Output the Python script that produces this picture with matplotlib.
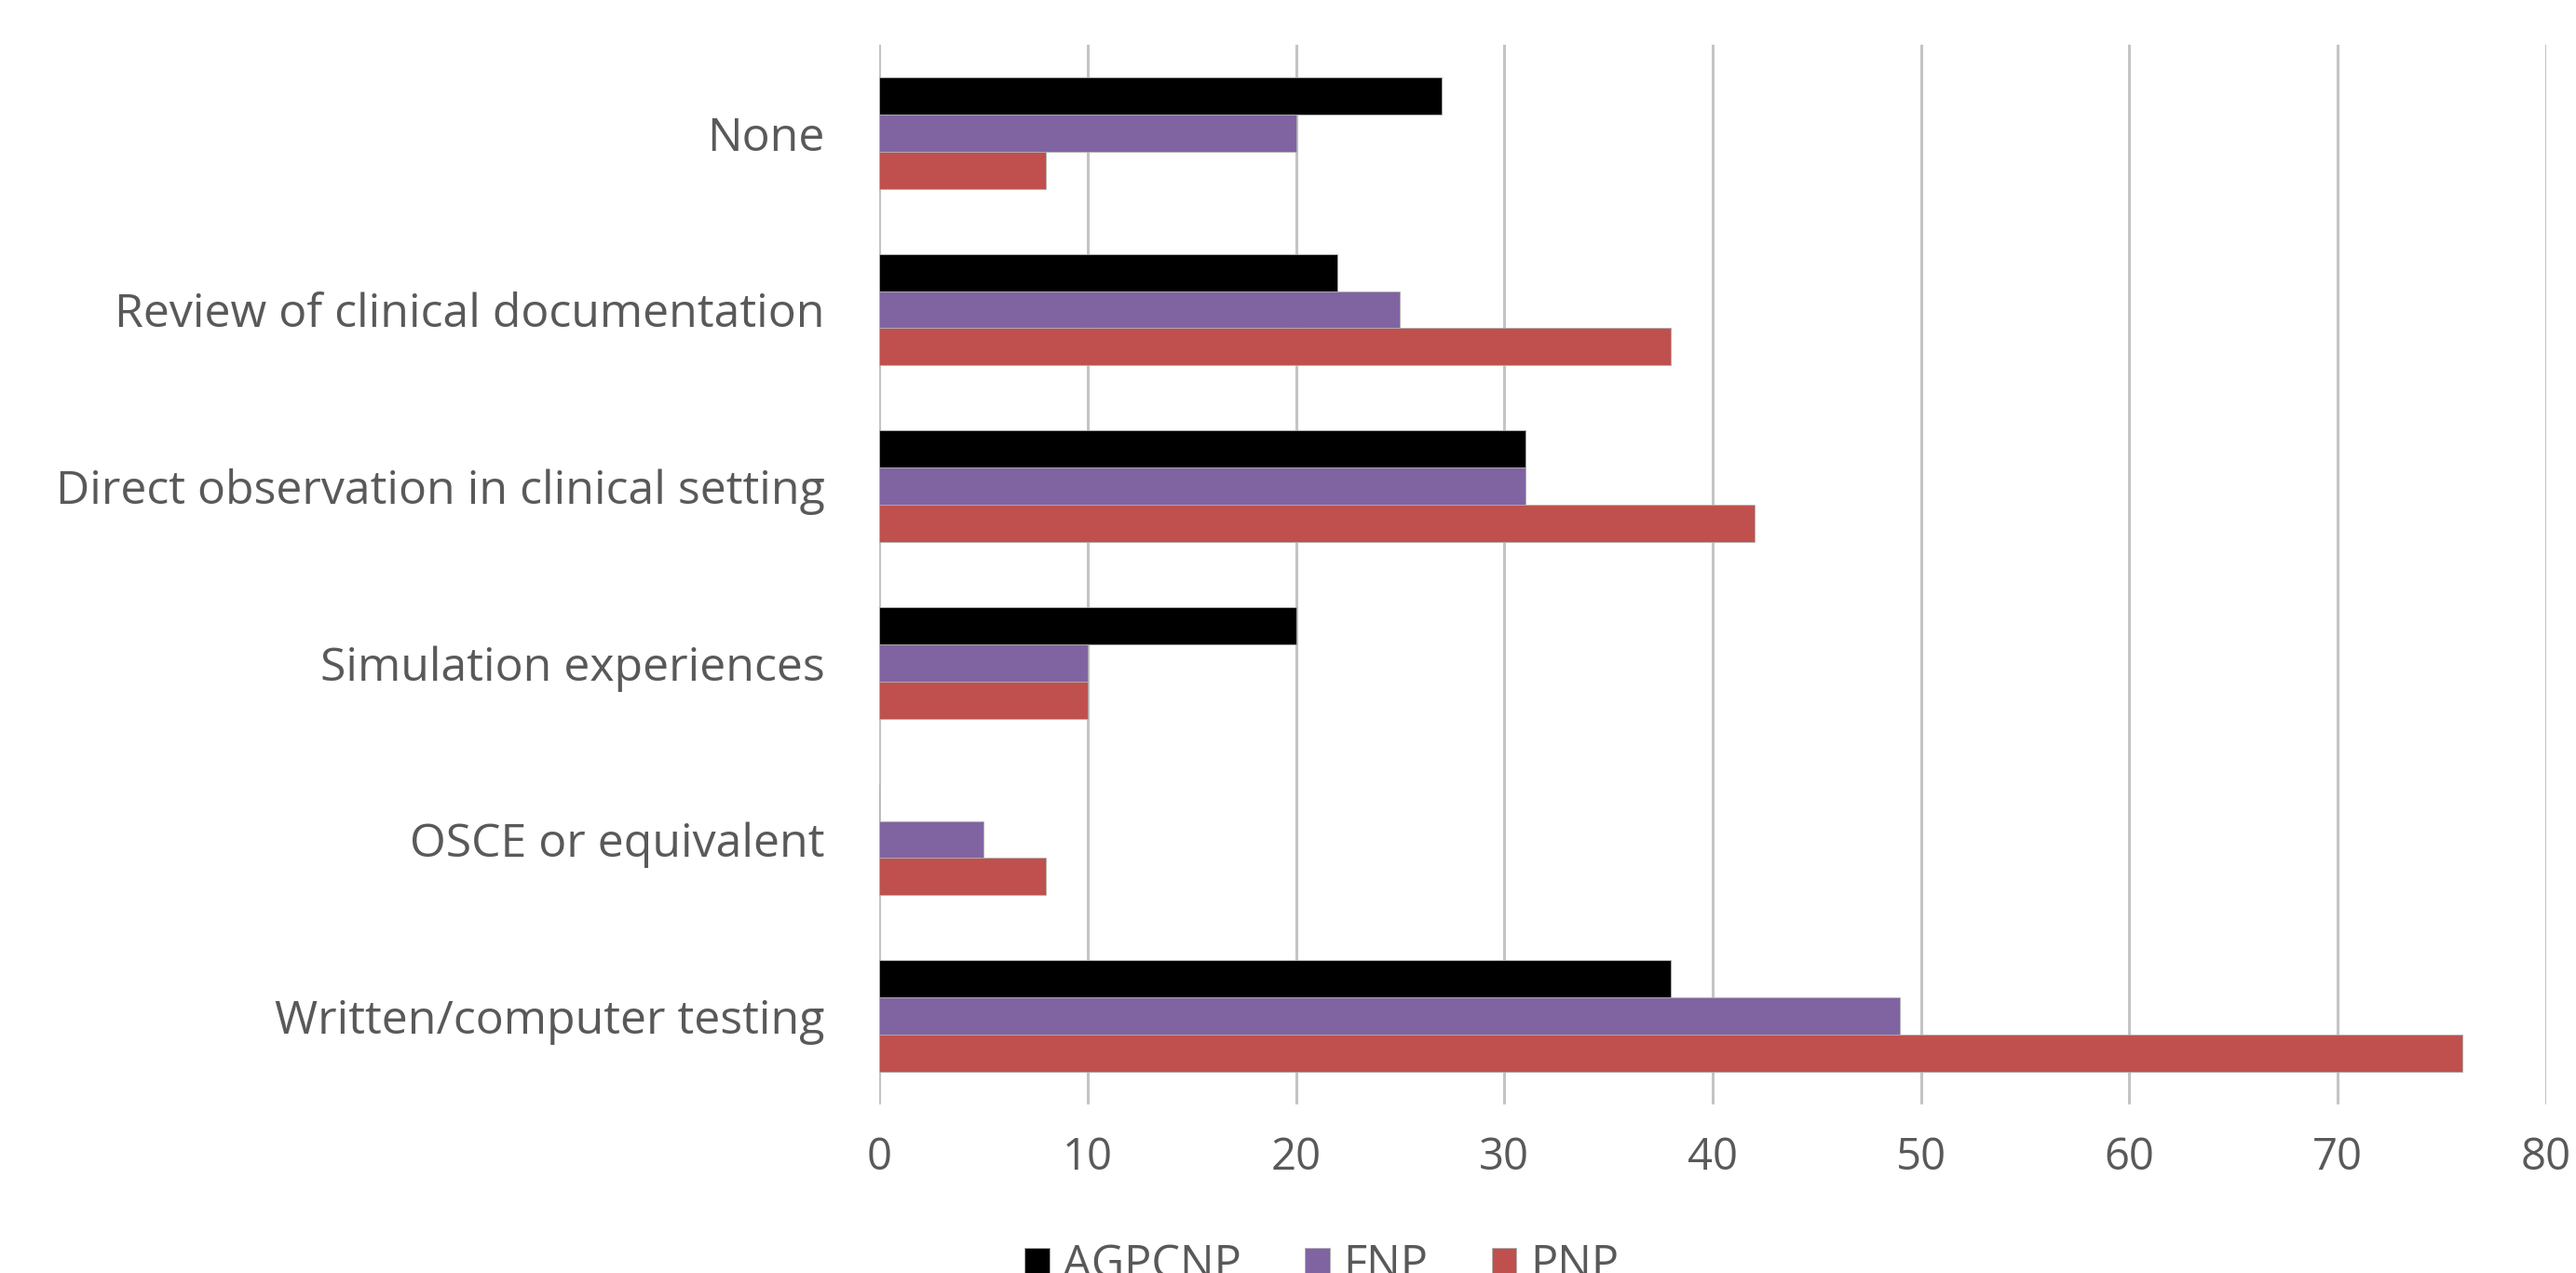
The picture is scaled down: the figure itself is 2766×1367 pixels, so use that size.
import matplotlib
matplotlib.use("Agg")
import matplotlib.pyplot as plt
import numpy as np

categories = ["None", "Review of clinical documentation", "Direct observation in clinical setting",
              "Simulation experiences", "OSCE or equivalent", "Written/computer testing"]
series_names = ["AGPCNP", "FNP", "PNP"]
agpcnp = [27, 22, 31, 20, 0, 38]
fnp = [20, 25, 31, 10, 5, 49]
pnp = [8, 38, 42, 10, 8, 76]
x_ticks = [0, 10, 20, 30, 40, 50, 60, 70, 80]

colors = ["#000000", "#8064A2", "#C0504D"]
text_color = "#595959"
font = "Open Sans"

fig = plt.figure(figsize=(27.66, 13.67), dpi=100)
ax = fig.add_axes([0.3413, 0.1324, 0.6471, 0.8325])

n = len(categories)
pos = np.arange(n)
bar_h = 0.21
for i, (vals, c, name) in enumerate(zip([agpcnp, fnp, pnp], colors, series_names)):
    offset = (i - 1) * bar_h
    ax.barh(pos + offset, vals, height=bar_h, color=c, label=name,
            edgecolor="#b0b0b0", linewidth=0.6, zorder=3)

ax.set_ylim(n - 0.5, -0.5)
ax.set_xlim(0, 80)
ax.set_xticks(x_ticks)
ax.set_yticks(pos)
ax.set_yticklabels(categories)
ax.grid(axis="x", color="#c4c4c4", linewidth=2.2, zorder=0)
ax.set_axisbelow(True)
for s in ax.spines.values():
    s.set_visible(False)
ax.tick_params(axis="y", length=0, pad=42, labelsize=36, labelcolor=text_color)
ax.tick_params(axis="x", length=0, pad=24, labelsize=34, labelcolor=text_color)
for lab in ax.get_xticklabels() + ax.get_yticklabels():
    lab.set_fontfamily(font)

leg = fig.legend(loc="center", bbox_to_anchor=(0.513, 0.006), ncol=3, frameon=False,
                 prop={"family": font, "size": 35}, handlelength=0.55, handleheight=0.55,
                 handletextpad=0.3, columnspacing=1.4, labelcolor=text_color)

fig.savefig("out.png", dpi=100)
